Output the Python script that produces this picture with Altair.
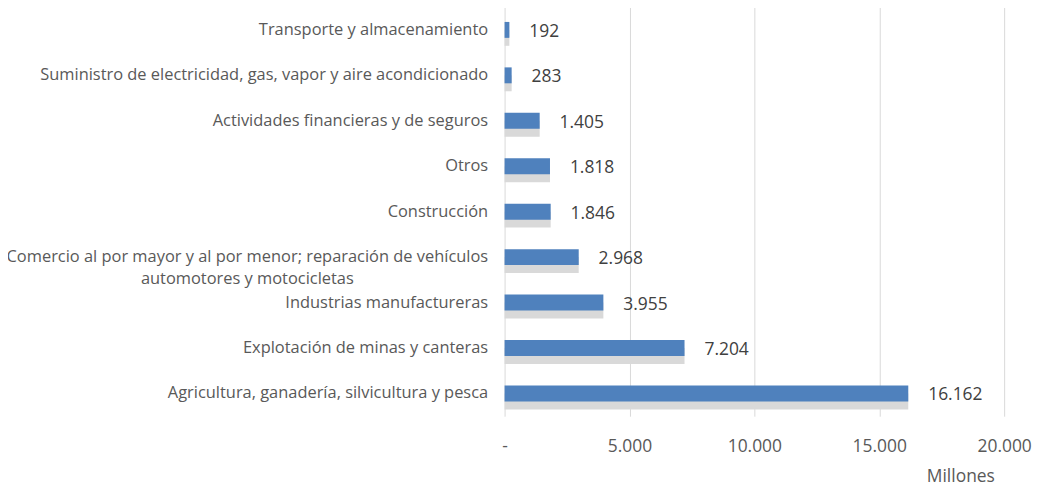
import altair as alt
import pandas as pd

categories = [
    "Transporte y almacenamiento",
    "Suministro de electricidad, gas, vapor y aire acondicionado",
    "Actividades financieras y de seguros",
    "Otros",
    "Construcción",
    "Comercio al por mayor y al por menor; reparación de vehículos\nautomotores y motocicletas",
    "Industrias manufactureras",
    "Explotación de minas y canteras",
    "Agricultura, ganadería, silvicultura y pesca",
]
values = [192, 283, 1405, 1818, 1846, 2968, 3955, 7204, 16162]
x_ticks = [0, 5000, 10000, 15000, 20000]

df = pd.DataFrame({"cat": categories, "val": values})

FONT = "Open Sans"
TXT = "#595959"

y_enc = alt.Y(
    "cat:N",
    sort=categories,
    scale=alt.Scale(paddingInner=0, paddingOuter=0),
    axis=alt.Axis(
        title=None,
        domain=False,
        ticks=False,
        labelFont=FONT,
        labelFontSize=16.5,
        labelColor=TXT,
        labelLimit=600,
        labelLineHeight=22,
        labelExpr="split(datum.label, '\\n')",
        labelAlign=alt.condition("indexof(datum.value, 'Comercio') == 0", alt.value("center"), alt.value("right")),
        labelPadding=alt.condition("indexof(datum.value, 'Comercio') == 0", alt.value(259), alt.value(17)),
    ),
)

x_enc = alt.X(
    "val:Q",
    scale=alt.Scale(domain=[0, 20000], nice=False),
    axis=alt.Axis(
        values=x_ticks,
        title="Millones",
        titleFont=FONT,
        titleFontSize=17.5,
        titleFontWeight="normal",
        titleColor=TXT,
        titleX=458,
        titleY=61,
        titleAlign="center",
        titleBaseline="middle",
        domain=False,
        ticks=False,
        grid=True,
        gridColor="#d9d9d9",
        labelFont=FONT,
        labelFontSize=17.5,
        labelColor=TXT,
        labelPadding=21,
        labelFlush=False,
        labelExpr="datum.value == 0 ? '-' : replace(format(datum.value, ','), ',', '.')",
    ),
)

base = alt.Chart(df)

shadow = base.mark_bar(color="#d9d9d9", size=16, yOffset=8).encode(x=x_enc, y=y_enc)
bars = base.mark_bar(color="#4f81bd", size=16).encode(x=x_enc, y=y_enc)
labels = base.transform_calculate(
    lab="replace(format(datum.val, ','), ',', '.')"
).mark_text(
    align="left", baseline="middle", dx=20, dy=2, font=FONT, fontSize=17.5, color="#404040"
).encode(x=x_enc, y=y_enc, text="lab:N")

chart = alt.layer(shadow, bars, labels).properties(
    width=502,
    height=411,
    autosize=alt.AutoSizeParams(type="none"),
    padding={"left": 499, "top": -2, "right": 30, "bottom": 70},
).configure_view(stroke=None)

chart.save("out.html", embed_options={"renderer": "svg", "actions": False})
